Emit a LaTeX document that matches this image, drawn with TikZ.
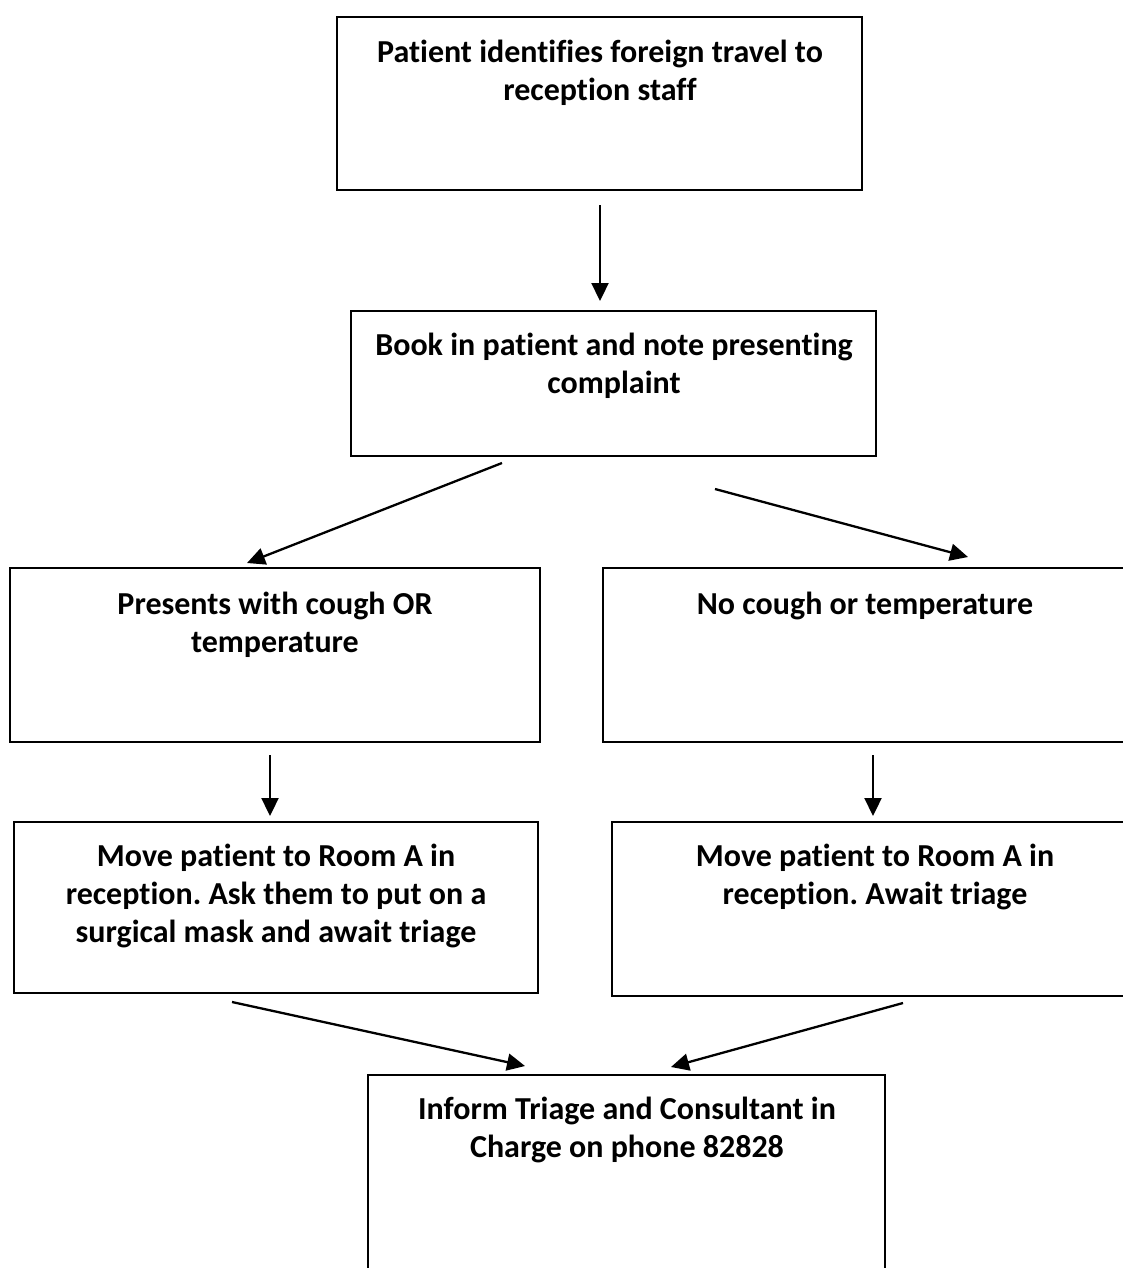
\documentclass[tikz,border=0pt]{standalone}
\usepackage{fontspec}
\setmainfont[Ligatures=NoCommon]{Carlito}
\usetikzlibrary{arrows.meta}
\frenchspacing
\begin{document}
\begin{tikzpicture}[x=1pt,y=-1pt,
  box/.style={draw=black, line width=2pt},
  txt/.style={anchor=north, align=center, font=\bfseries\fontsize{32}{38}\selectfont, inner sep=0pt},
  arr/.style={draw=black, line width=2.3pt, -{Triangle[length=18pt,width=17pt]}}]
\useasboundingbox (0,0) rectangle (1123,1268);
% boxes
\draw[box] (337,17) rectangle (862,190);
\draw[box] (351,311) rectangle (876,456);
\draw[box] (10,568) rectangle (540,742);
\draw[box] (1130,568) -- (603,568) -- (603,742) -- (1130,742);
\draw[box] (14,822) rectangle (538,993);
\draw[box] (1130,822) -- (612,822) -- (612,996) -- (1130,996);
\draw[box] (368,1280) -- (368,1075) -- (885,1075) -- (885,1280);
% texts
\node[txt] (t1) at (600,40) {Patient identifies foreign travel to\\reception staff};
\node[txt] (t2) at (614,333) {Book in patient and note presenting\\complaint};
\node[txt] (t3) at (275,592) {Presents with cough OR\\temperature};
\node[txt] (t4) at (865,592) {No cough or temperature};
\node[txt] (t5) at (276,844) {Move patient to Room A in\\reception. Ask them to put on a\\surgical mask and await triage};
\node[txt] (t6) at (875,844) {Move patient to Room A in\\reception. Await triage};
\node[txt] (t7) at (627,1097) {Inform Triage and Consultant in\\Charge on phone 82828};
% arrow endpoints
\coordinate (a1s) at (600,205); \coordinate (a1e) at (600,301);
\coordinate (a2s) at (502,463); \coordinate (a2e) at (247,563);
\coordinate (a3s) at (715,489); \coordinate (a3e) at (968,557);
\coordinate (a4s) at (270,755); \coordinate (a4e) at (270,816);
\coordinate (a5s) at (873,755); \coordinate (a5e) at (873,816);
\coordinate (a6s) at (232,1002); \coordinate (a6e) at (525,1066);
\coordinate (a7s) at (903,1003); \coordinate (a7e) at (671,1067);
\draw[arr] (a1s) -- (a1e);
\draw[arr] (a2s) -- (a2e);
\draw[arr] (a3s) -- (a3e);
\draw[arr] (a4s) -- (a4e);
\draw[arr] (a5s) -- (a5e);
\draw[arr] (a6s) -- (a6e);
\draw[arr] (a7s) -- (a7e);
\end{tikzpicture}
\end{document}
